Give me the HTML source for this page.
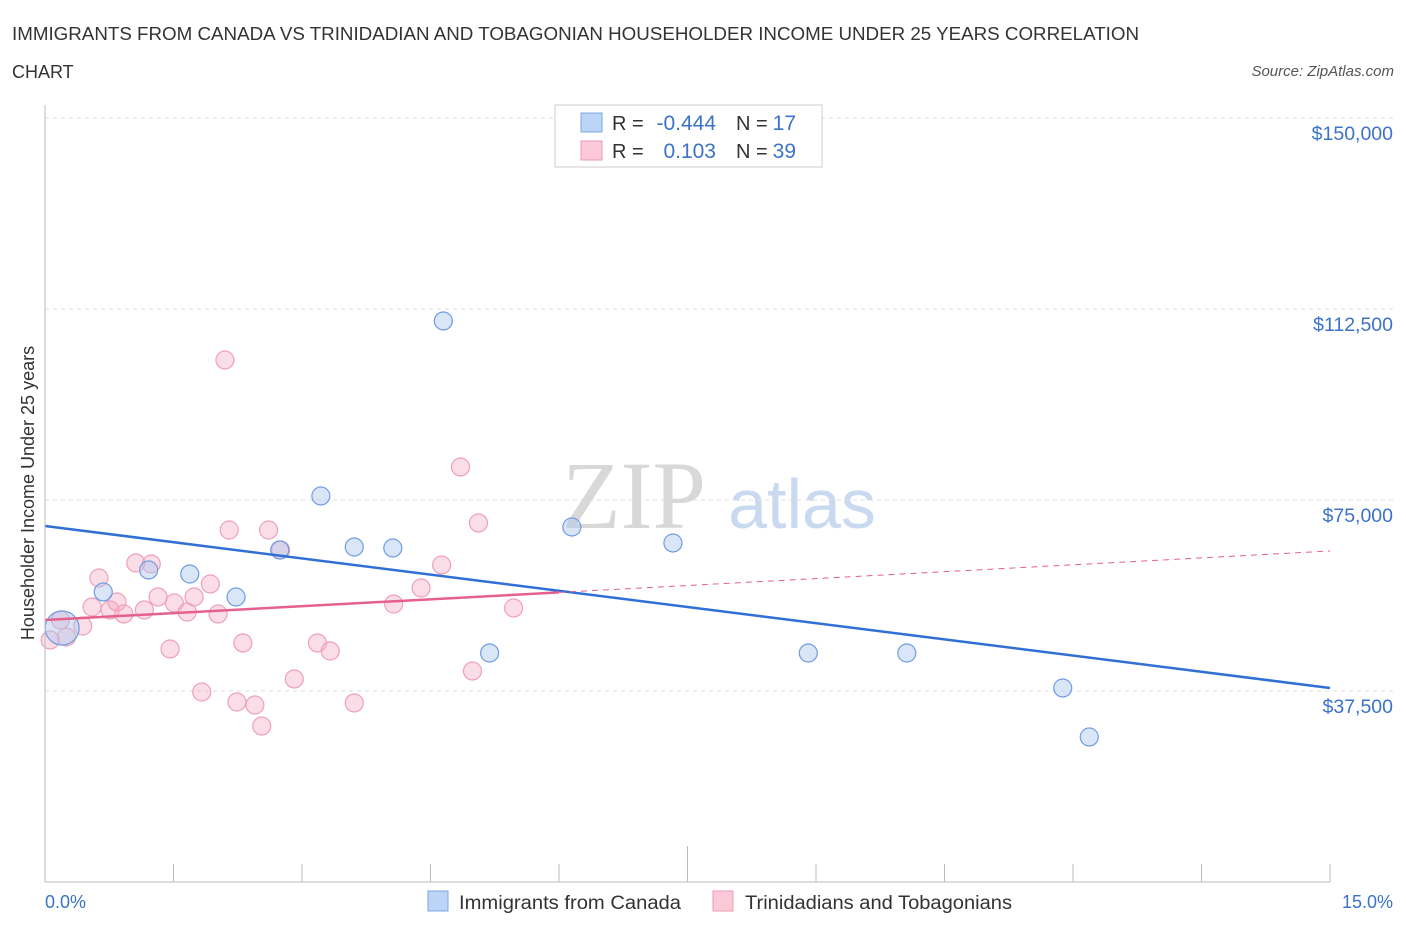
<!DOCTYPE html>
<html><head><meta charset="utf-8"><style>
body{margin:0;background:#fff;font-family:"Liberation Sans",sans-serif;}
svg{display:block}
</style></head><body>
<svg id="chart" width="1406" height="930" xmlns="http://www.w3.org/2000/svg">
<text x="12" y="40" font-size="18" fill="#333" textLength="1127" lengthAdjust="spacingAndGlyphs">IMMIGRANTS FROM CANADA VS TRINIDADIAN AND TOBAGONIAN HOUSEHOLDER INCOME UNDER 25 YEARS CORRELATION</text>
<text x="12" y="78" font-size="18" fill="#333">CHART</text>
<text x="1394" y="76" font-size="15" fill="#555" font-style="italic" text-anchor="end">Source: ZipAtlas.com</text>
<text x="634" y="528" font-size="96" fill="#d8d8d8" font-family="Liberation Serif,serif" text-anchor="middle">ZIP</text>
<text x="802" y="528" font-size="70" fill="#c9daf0" text-anchor="middle">atlas</text>
<text transform="translate(34,493) rotate(-90)" font-size="18" fill="#333" text-anchor="middle">Householder Income Under 25 years</text>
<g id="grid"></g><g id="marks"></g>
<line x1="45" y1="105" x2="45" y2="882" stroke="#bbb"/>
<line x1="45" y1="882" x2="1330" y2="882" stroke="#bbb"/>
<text x="45" y="908" font-size="18" fill="#3b73c8">0.0%</text>
<text x="1393" y="908" font-size="18" fill="#3b73c8" text-anchor="end">15.0%</text>
<g>
<rect x="555" y="105" width="267" height="62" fill="#fff" stroke="#ccc"/>
<rect x="581" y="113" width="21" height="19" fill="#bcd4f6" stroke="#7aa7e6"/>
<rect x="581" y="141" width="21" height="19" fill="#fbc9d8" stroke="#ee9ab3"/>
<text x="612" y="130" font-size="20" fill="#333">R =</text>
<text x="716" y="130" font-size="21" fill="#3b73c8" text-anchor="end">-0.444</text>
<text x="736" y="130" font-size="20" fill="#333">N =</text>
<text x="796" y="130" font-size="21" fill="#3b73c8" text-anchor="end">17</text>
<text x="612" y="158" font-size="20" fill="#333">R =</text>
<text x="716" y="158" font-size="21" fill="#3b73c8" text-anchor="end">0.103</text>
<text x="736" y="158" font-size="20" fill="#333">N =</text>
<text x="796" y="158" font-size="21" fill="#3b73c8" text-anchor="end">39</text>
</g>
<g>
<rect x="428" y="891" width="20" height="20" fill="#bcd4f6" stroke="#7aa7e6"/>
<text x="459" y="909" font-size="19" fill="#333" textLength="222" lengthAdjust="spacingAndGlyphs">Immigrants from Canada</text>
<rect x="713" y="891" width="20" height="20" fill="#fbc9d8" stroke="#ee9ab3"/>
<text x="745" y="909" font-size="19" fill="#333" textLength="267" lengthAdjust="spacingAndGlyphs">Trinidadians and Tobagonians</text>
</g>
</svg>
<script>
const yTicks=[37500,75000,112500,150000];
const yTickLabels=["$37,500","$75,000","$112,500","$150,000"];
const blueX=[0.20,0.68,1.21,1.69,2.23,2.74,3.22,3.61,4.06,4.65,5.19,6.15,7.33,8.91,10.06,11.88,12.19];
const blueY=[49870,56940,61260,60470,55960,65190,75790,65770,65580,110150,44960,69700,66560,44960,44960,38090,28470];
const pinkX=[0.06,0.18,0.25,0.44,0.55,0.63,0.76,0.84,0.92,1.06,1.16,1.24,1.32,1.46,1.51,1.66,1.74,1.83,1.93,2.02,2.15,2.24,2.31,2.45,2.53,2.61,2.75,2.91,3.18,3.33,3.61,4.07,4.39,4.63,4.85,4.99,5.06,5.47,2.10];
const pinkY=[47510,51440,48100,50260,53990,59690,53400,54980,52620,62630,53400,62440,55960,45750,54780,53010,55960,37300,58510,52620,69110,35340,46930,34750,30630,69110,65190,39860,46930,45350,35150,54580,57720,62240,81480,41430,70490,53800,102490];
const blueTrend=[69900,38090];
const pinkTrend=[51440,64990];
const pinkSolidEnd=6.0;
const NS="http://www.w3.org/2000/svg";
const xs=v=>45+v/15*1285;
const ys=v=>882-v/37500*191;
const grid=document.getElementById('grid'),marks=document.getElementById('marks');
function mk(tag,attrs,parent){const e=document.createElementNS(NS,tag);for(const k in attrs)e.setAttribute(k,attrs[k]);parent.appendChild(e);return e;}
yTicks.forEach((t,i)=>{
 const l=mk('line',{x1:45,x2:1393,y1:ys(t),y2:ys(t),stroke:'#ddd','stroke-dasharray':'4,4'},grid);
 
 
 const tx=mk('text',{x:1393,y:ys(t)+22,'font-size':19.5,fill:'#3b73c8','text-anchor':'end'},grid);
 tx.textContent=yTickLabels[i];
 
 
});
for(let i=0;i<=10;i++){
 const v=i*1.5;
 const l=mk('line',{x1:xs(v),x2:xs(v),y1:i==5?846:864,y2:882,stroke:'#bbb'},grid);
 
 
}
pinkX.forEach((x,i)=>{
 const c=mk('circle',{cx:xs(x),cy:ys(pinkY[i]),r:9,fill:'rgba(246,170,195,0.4)',stroke:'#eea0ba','stroke-width':1.2},marks);
 
 
});
blueX.forEach((x,i)=>{
 const c=mk('circle',{cx:xs(x),cy:ys(blueY[i]),r:i==0?17:9,fill:'rgba(170,200,240,0.45)',stroke:'#6f9de0','stroke-width':1.2},marks);
 
 
});
const pAt=x=>pinkTrend[0]+(pinkTrend[1]-pinkTrend[0])*x/15;
let l=mk('line',{x1:xs(0),y1:ys(blueTrend[0]),x2:xs(15),y2:ys(blueTrend[1]),stroke:'#2f6fd6','stroke-width':2.5},marks);


l=mk('line',{x1:xs(0),y1:ys(pAt(0)),x2:xs(pinkSolidEnd),y2:ys(pAt(pinkSolidEnd)),stroke:'#e5608c','stroke-width':2.5},marks);


l=mk('line',{x1:xs(pinkSolidEnd),y1:ys(pAt(pinkSolidEnd)),x2:xs(15),y2:ys(pAt(15)),stroke:'#e5608c','stroke-width':1,'stroke-dasharray':'6,5'},marks);


</script>
</body></html>
